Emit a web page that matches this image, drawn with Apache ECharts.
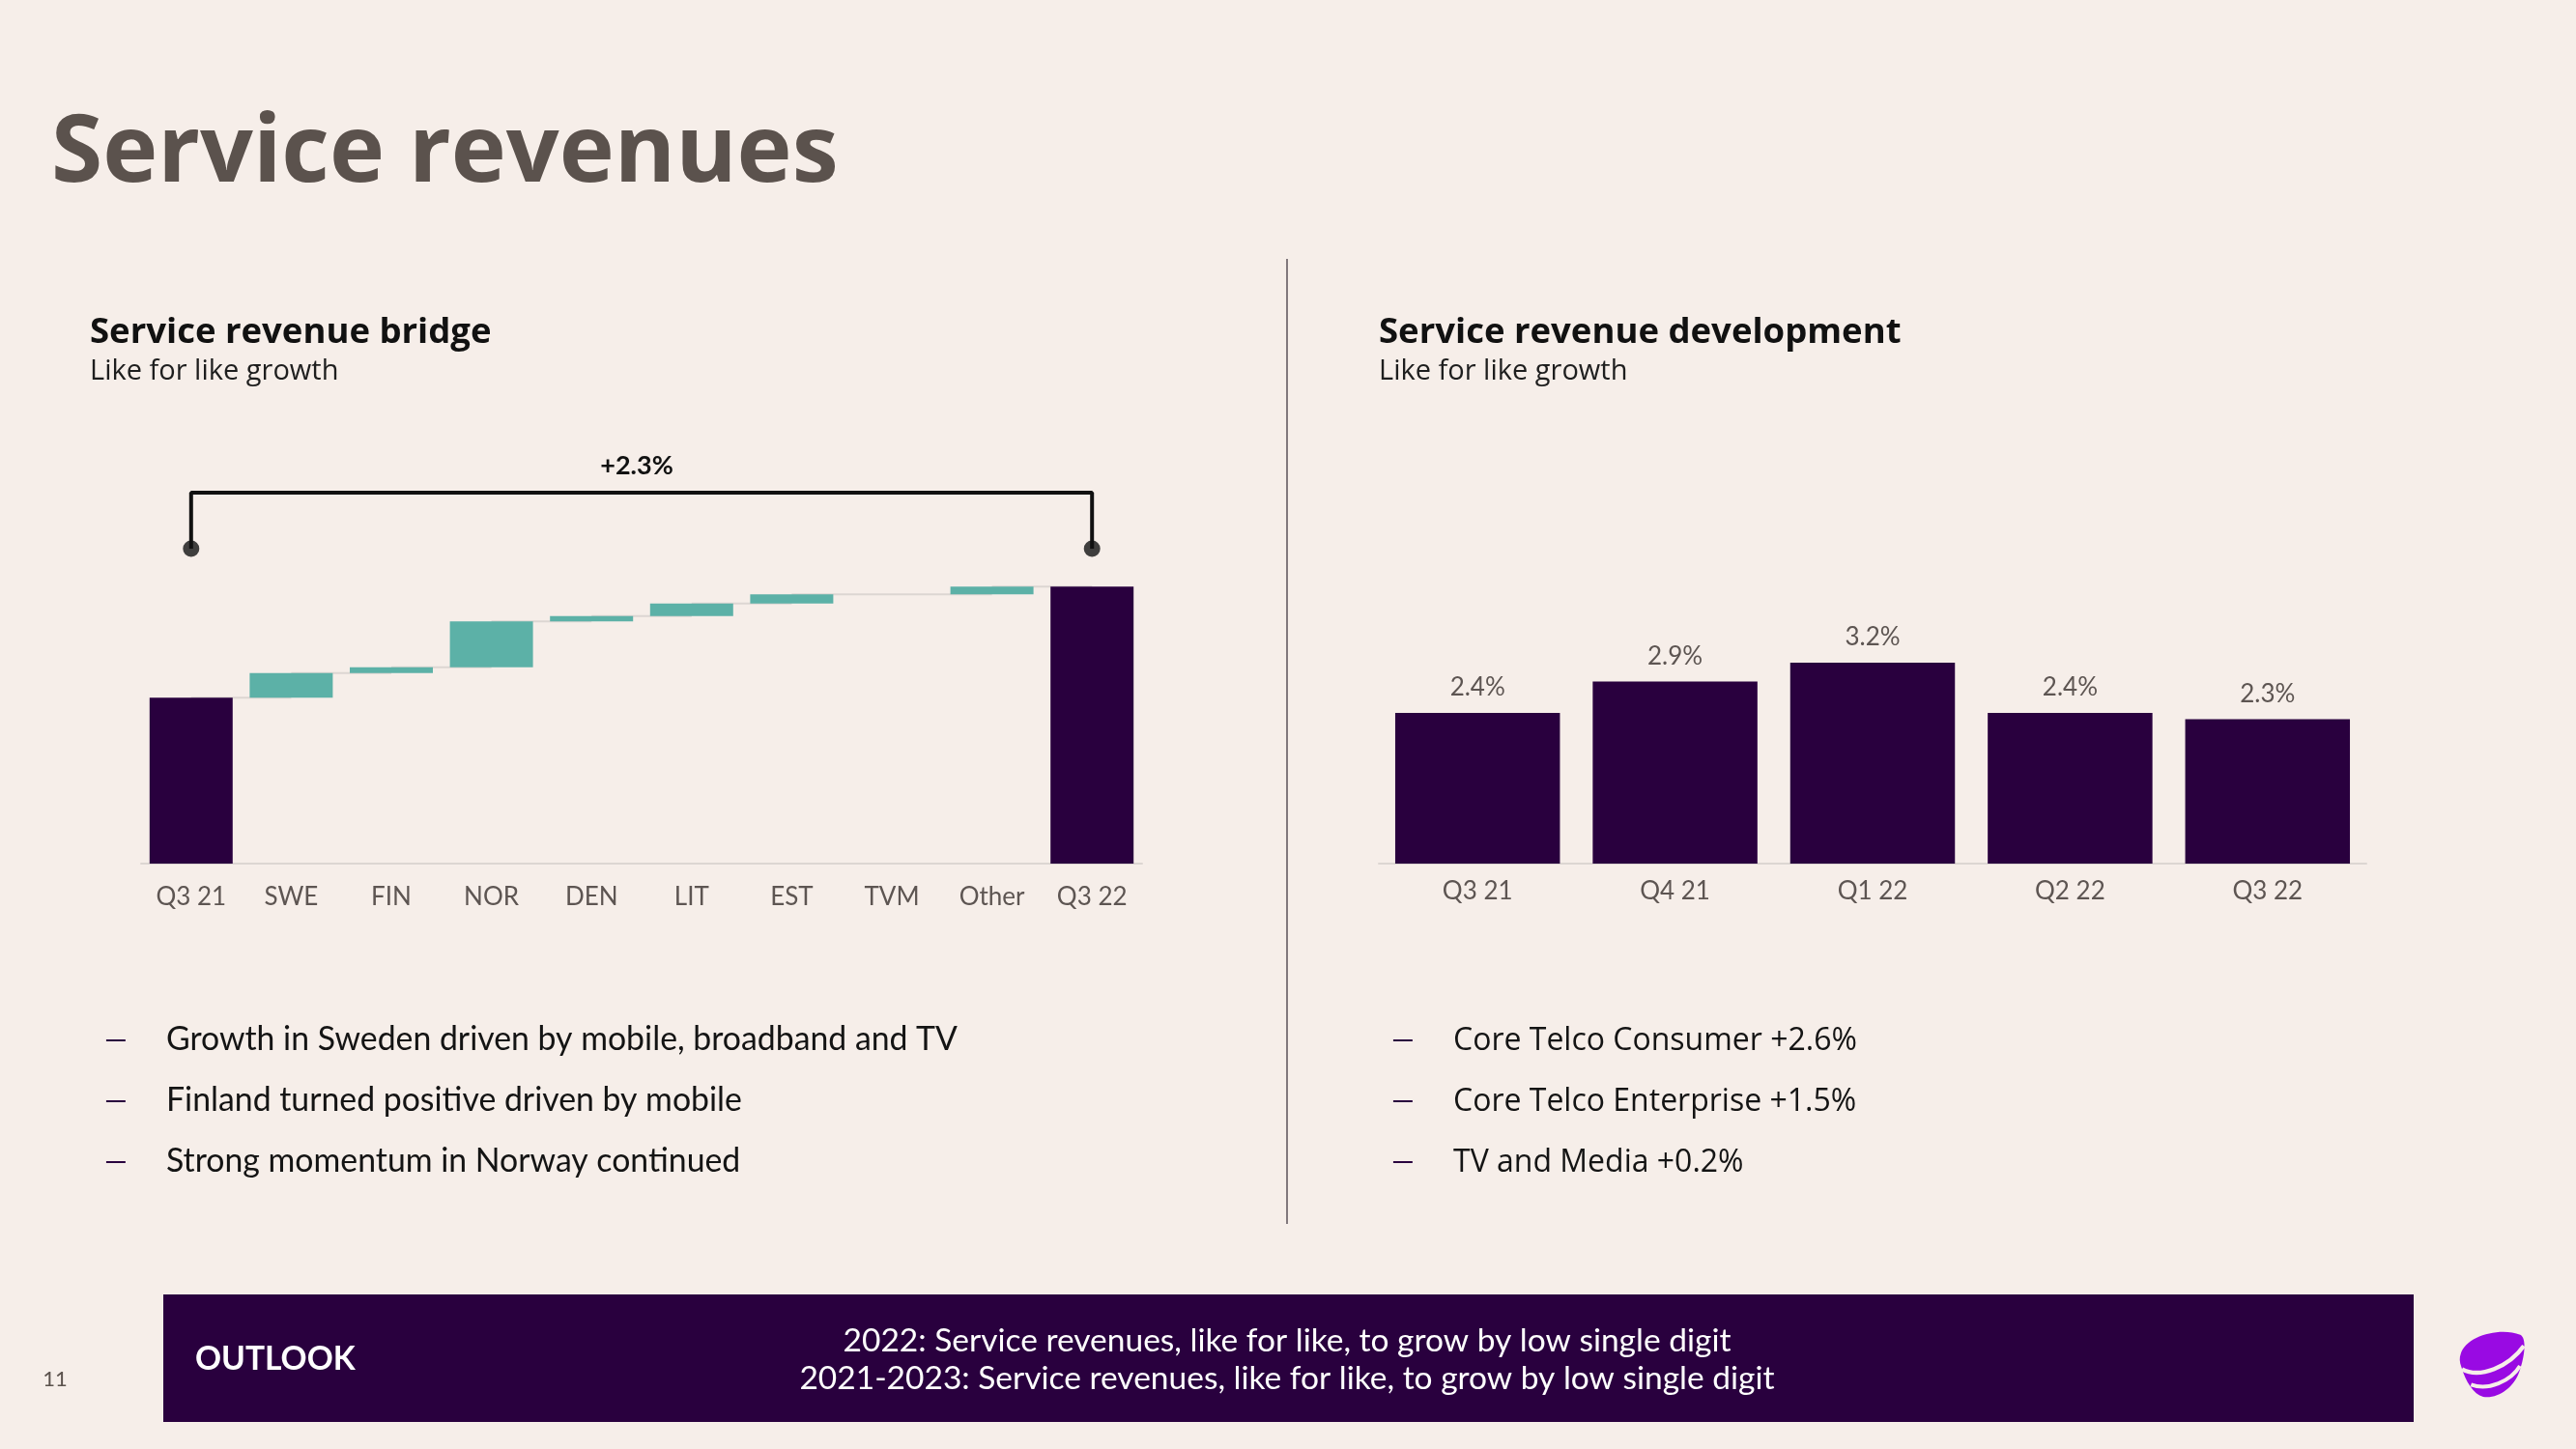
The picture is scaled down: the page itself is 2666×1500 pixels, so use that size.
<!DOCTYPE html>
<html>
<head>
<meta charset="utf-8">
<script src="https://cdn.jsdelivr.net/npm/echarts/dist/echarts.min.js"></script>
<style>
html,body{margin:0;padding:0;background:#f6eee9;}
#c{width:2666px;height:1500px;}
</style>
</head>
<body>
<div id="c"></div>
<script>
// ---------- DATA ----------
const bridgeCategories = ['Q3 21', 'SWE', 'FIN', 'NOR', 'DEN', 'LIT', 'EST', 'TVM', 'Other', 'Q3 22'];
const bridgeStart = 100.0;                 // Q3 21 service revenue index
const bridgeDeltas = [0.51, 0.12, 0.95, 0.11, 0.26, 0.19, 0.00, 0.16]; // SWE .. Other (index points)
const bridgeEnd = 102.3;                   // Q3 22
const bridgeTotalLabel = '+2.3%';

const devCategories = ['Q3 21', 'Q4 21', 'Q1 22', 'Q2 22', 'Q3 22'];
const devValues = [2.4, 2.9, 3.2, 2.4, 2.3];

const pageTitle = 'Service revenues';
const leftHeading = 'Service revenue bridge';
const leftSub = 'Like for like growth';
const rightHeading = 'Service revenue development';
const rightSub = 'Like for like growth';
const leftBullets = [
  'Growth in Sweden driven by mobile, broadband and TV',
  'Finland turned positive driven by mobile',
  'Strong momentum in Norway continued'
];
const rightBullets = [
  'Core Telco Consumer +2.6%',
  'Core Telco Enterprise +1.5%',
  'TV and Media +0.2%'
];
const outlookLabel = 'OUTLOOK';
const outlookLines = [
  '2022: Service revenues, like for like, to grow by low single digit',
  '2021-2023: Service revenues, like for like, to grow by low single digit'
];
const pageNumber = '11';

// ---------- STYLE ----------
const PURPLE = '#29003e';
const TEAL = '#5cb1a7';
const AXIS = '#dcd6d2';
const LABEL = '#5d5552';
const BG = '#f6eee9';

// ---------- build waterfall rows ----------
const bridgeRows = [];
let cum = bridgeStart;
bridgeRows.push([0, 0, bridgeStart, 1, bridgeStart]);
bridgeDeltas.forEach((d, k) => {
  const low = cum;
  cum = cum + d;
  bridgeRows.push([k + 1, Math.min(low, cum), Math.max(low, cum), 0, cum]);
});
bridgeRows.push([bridgeCategories.length - 1, 0, bridgeEnd, 1, bridgeEnd]);

const bracketLow = 103.08, bracketHigh = 104.24;
const lastIdx = bridgeCategories.length - 1;

const chart = echarts.init(document.getElementById('c'), null, {renderer: 'canvas'});

const axisLabelBase = {color: LABEL, fontSize: 26, fontFamily: 'Lato'};

const option = {
  backgroundColor: BG,
  animation: false,
  grid: [
    {left: 146, top: 472, width: 1036, height: 422},
    {left: 1427, top: 634, width: 1022, height: 260}
  ],
  xAxis: [
    {type: 'category', gridIndex: 0, data: bridgeCategories, boundaryGap: true,
     axisTick: {show: false},
     axisLine: {lineStyle: {color: AXIS, width: 2}},
     axisLabel: Object.assign({margin: 22}, axisLabelBase)},
    {type: 'category', gridIndex: 1, data: devCategories, boundaryGap: true,
     axisTick: {show: false},
     axisLine: {lineStyle: {color: AXIS, width: 2}},
     axisLabel: Object.assign({margin: 16}, axisLabelBase)}
  ],
  yAxis: [
    {type: 'value', gridIndex: 0, min: 96.57, max: 105, show: false, splitLine: {show: false}},
    {type: 'value', gridIndex: 1, min: 0, max: 4, show: false, splitLine: {show: false}}
  ],
  series: [
    {
      type: 'custom', xAxisIndex: 0, yAxisIndex: 0, clip: true,
      data: bridgeRows,
      renderItem: function (params, api) {
        const i = api.value(0);
        const low = api.value(1), high = api.value(2);
        const isTotal = api.value(3) === 1;
        const level = api.value(4);
        const pTop = api.coord([i, high]);
        const pBot = api.coord([i, low]);
        const band = api.size([1, 0])[0];
        const bw = band * 0.83;
        const cs = params.coordSys;
        const children = [];
        if (i < lastIdx) {
          const pl = api.coord([i, level]);
          children.push({type: 'line', shape: {x1: pTop[0], y1: pl[1], x2: pTop[0] + band, y2: pl[1]},
            style: {stroke: AXIS, lineWidth: 2}});
        }
        const rect = echarts.graphic.clipRectByRect(
          {x: pTop[0] - bw / 2, y: pTop[1], width: bw, height: pBot[1] - pTop[1]},
          {x: cs.x, y: cs.y, width: cs.width, height: cs.height});
        if (rect && rect.height > 0) {
          children.push({type: 'rect', shape: rect, style: {fill: isTotal ? PURPLE : TEAL}});
        }
        return {type: 'group', children: children};
      }
    },
    {
      type: 'line', xAxisIndex: 0, yAxisIndex: 0, symbol: 'none', silent: true,
      lineStyle: {color: '#111111', width: 4},
      data: [[0, bracketLow], [0, bracketHigh], [lastIdx, bracketHigh], [lastIdx, bracketLow]]
    },
    {
      type: 'scatter', xAxisIndex: 0, yAxisIndex: 0, symbolSize: 17, silent: true,
      itemStyle: {color: '#111111'},
      data: [[0, bracketLow], [lastIdx, bracketLow]]
    },
    {
      type: 'bar', xAxisIndex: 1, yAxisIndex: 1, data: devValues, barWidth: '83.4%',
      itemStyle: {color: PURPLE},
      label: {show: true, position: 'top', distance: 13, color: LABEL, fontSize: 26, fontFamily: 'Lato',
        formatter: p => p.value.toFixed(1) + '%'}
    }
  ]
};
chart.setOption(option);

// ---------- texts & decorations ----------
const leftPt = chart.convertToPixel({gridIndex: 0}, [0, bracketHigh]);
const rightPt = chart.convertToPixel({gridIndex: 0}, [lastIdx, bracketHigh]);

function txt(text, x, y, font, fill, align) {
  return {type: 'text', x: x, y: y, silent: true,
    style: {text: text, font: font, fill: fill, align: align || 'left', verticalAlign: 'middle'}};
}
const g = [];
g.push(txt(pageTitle, 53, 161, '700 96.5px "Open Sans"', '#5b524d'));
g.push(txt(leftHeading, 93, 345, '700 36.5px "Open Sans"', '#111111'));
g.push(txt(leftSub, 93, 385, '29px "Open Sans"', '#1e1e1e'));
g.push(txt(rightHeading, 1427, 345, '700 36.5px "Open Sans"', '#111111'));
g.push(txt(rightSub, 1427, 385, '29px "Open Sans"', '#1e1e1e'));
g.push(txt(bridgeTotalLabel, (leftPt[0] + rightPt[0]) / 2 - 5, 482, '700 27px Lato', '#111111', 'center'));

const bulletY = [1076, 1139, 1202];
leftBullets.forEach((t, k) => {
  g.push(txt('—', 108, bulletY[k], '30px Lato', PURPLE));
  g.push(txt(t, 172, bulletY[k], '33.8px Lato', '#141414'));
});
rightBullets.forEach((t, k) => {
  g.push(txt('—', 1440, bulletY[k], '30px Lato', PURPLE));
  g.push(txt(t, 1504, bulletY[k] + 2, '32px "Open Sans"', '#141414'));
});

// divider
g.push({type: 'line', silent: true, shape: {x1: 1332, y1: 268, x2: 1332, y2: 1267},
  style: {stroke: '#5a5058', lineWidth: 1.5}});

// outlook box
g.push({type: 'rect', silent: true, shape: {x: 169, y: 1340, width: 2329, height: 132}, style: {fill: PURPLE}});
g.push(txt(outlookLabel, 202, 1407, '700 33.5px Lato', '#ffffff'));
g.push(txt(outlookLines[0], 1332, 1388, '33.5px Lato', '#ffffff', 'center'));
g.push(txt(outlookLines[1], 1332, 1427, '33.5px Lato', '#ffffff', 'center'));

g.push(txt(pageNumber, 57, 1428, '22px Lato', '#5b524d', 'center'));

chart.setOption({graphic: g});

// logo (drawn directly with zrender paths)
const logo = new echarts.graphic.Group({x: 2520, y: 1360, scaleX: 1 / 3, scaleY: 1 / 3, silent: true});
logo.add(echarts.graphic.makePath(
  'M 80 125 C 95 70, 200 40, 265 65 C 285 75, 280 130, 262 180 C 245 230, 195 265, 150 258 C 120 250, 95 210, 82 165 C 76 150, 76 135, 80 125 Z',
  {style: {fill: '#990ae3'}}));
logo.add(echarts.graphic.makePath('M 84 172 C 140 202, 230 165, 276 100',
  {style: {stroke: BG, lineWidth: 13, fill: 'none'}}));
logo.add(echarts.graphic.makePath('M 112 220 C 165 240, 235 210, 264 162',
  {style: {stroke: BG, lineWidth: 12, fill: 'none'}}));
chart.getZr().add(logo);
</script>
</body>
</html>
